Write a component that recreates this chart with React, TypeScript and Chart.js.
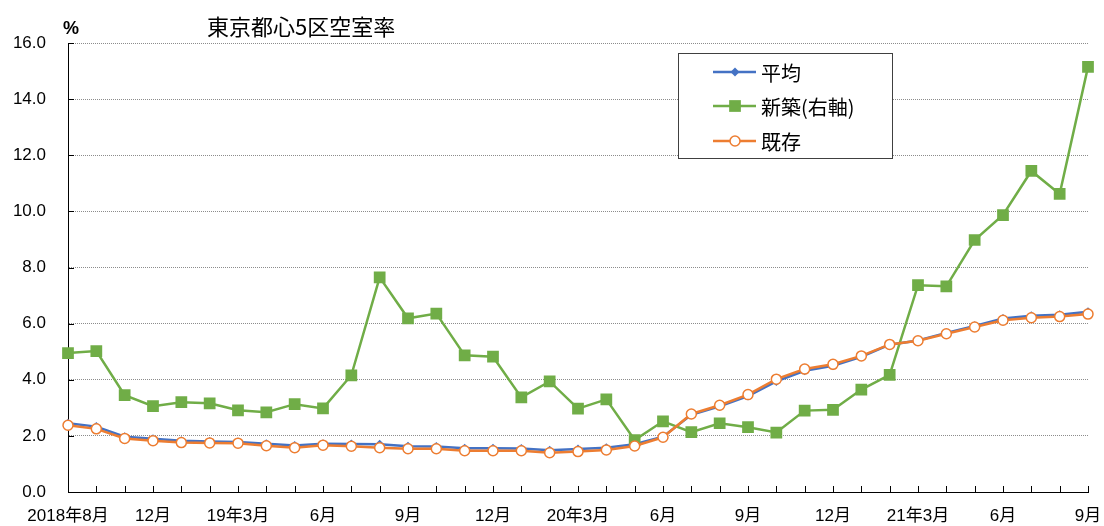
import React, { useEffect, useRef } from "react";
import { Chart, registerables } from "chart.js";

Chart.register(...registerables);

const categories = [
  "2018年9月", "2018年10月", "2018年11月", "2018年12月",
  "2019年1月", "2019年2月", "2019年3月", "2019年4月", "2019年5月", "2019年6月",
  "2019年7月", "2019年8月", "2019年9月", "2019年10月", "2019年11月", "2019年12月",
  "2020年1月", "2020年2月", "2020年3月", "2020年4月", "2020年5月", "2020年6月",
  "2020年7月", "2020年8月", "2020年9月", "2020年10月", "2020年11月", "2020年12月",
  "2021年1月", "2021年2月", "2021年3月", "2021年4月", "2021年5月", "2021年6月",
  "2021年7月", "2021年8月", "2021年9月",
];

const tickLabels = [
  "2018年8月", "12月", "19年3月", "6月", "9月", "12月", "20年3月",
  "6月", "9月", "12月", "21年3月", "6月", "9月",
];

const yTicks = [0, 2, 4, 6, 8, 10, 12, 14, 16];

const averageSeries = [
  2.45, 2.33, 1.97, 1.9, 1.83, 1.8, 1.78, 1.72, 1.66, 1.72, 1.71, 1.7, 1.63,
  1.62, 1.56, 1.56, 1.55, 1.49, 1.53, 1.58, 1.7, 1.97, 2.75, 3.05, 3.42, 3.94,
  4.32, 4.5, 4.82, 5.25, 5.4, 5.67, 5.92, 6.18, 6.28, 6.32, 6.42,
];

const newBuildSeries = [
  4.95, 5.02, 3.45, 3.06, 3.2, 3.16, 2.91, 2.84, 3.13, 2.98, 4.16, 7.65, 6.19,
  6.36, 4.87, 4.82, 3.37, 3.94, 2.97, 3.3, 1.85, 2.52, 2.13, 2.45, 2.31, 2.12,
  2.9, 2.93, 3.65, 4.17, 7.37, 7.33, 8.98, 9.87, 11.44, 10.62, 15.15,
];

const existingSeries = [
  2.38, 2.25, 1.91, 1.83, 1.76, 1.75, 1.74, 1.65, 1.58, 1.67, 1.63, 1.58, 1.54,
  1.54, 1.47, 1.47, 1.47, 1.4, 1.44, 1.5, 1.64, 1.95, 2.78, 3.09, 3.47, 4.02,
  4.38, 4.55, 4.85, 5.26, 5.39, 5.64, 5.88, 6.12, 6.21, 6.25, 6.34,
];

const seriesNames = ["平均", "新築(右軸)", "既存"];
const titleText = "東京都心5区空室率";
const unitText = "%";

const FONT = "'Liberation Sans', 'Noto Sans CJK JP', sans-serif";
const CJK = "'Noto Sans CJK JP', 'Liberation Sans', sans-serif";

function drawMarker(ctx: CanvasRenderingContext2D, style: string, x: number, y: number, r: number, fill: string, stroke: string, bw: number) {
  ctx.save();
  ctx.beginPath();
  if (style === "rect") {
    const s = r * Math.SQRT1_2;
    ctx.rect(x - s, y - s, 2 * s, 2 * s);
  } else if (style === "rectRot") {
    ctx.moveTo(x, y - r);
    ctx.lineTo(x + r, y);
    ctx.lineTo(x, y + r);
    ctx.lineTo(x - r, y);
    ctx.closePath();
  } else {
    ctx.arc(x, y, r, 0, Math.PI * 2);
  }
  ctx.fillStyle = fill;
  ctx.fill();
  if (bw > 0) {
    ctx.lineWidth = bw;
    ctx.strokeStyle = stroke;
    ctx.stroke();
  }
  ctx.restore();
}

const decorPlugin = {
  id: "decor",
  afterDraw(chart: any) {
    const ctx = chart.ctx as CanvasRenderingContext2D;
    const area = chart.chartArea;
    const xs = chart.scales.x;
    const ys = chart.scales.y;
    ctx.save();
    // inner tick marks
    ctx.strokeStyle = "#000";
    ctx.lineWidth = 1;
    ctx.beginPath();
    for (let i = 0; i < xs.ticks.length; i++) {
      const px = Math.round(xs.getPixelForTick(i)) + 0.5;
      ctx.moveTo(px, area.bottom);
      ctx.lineTo(px, area.bottom - 6);
    }
    for (let i = 0; i < ys.ticks.length; i++) {
      const py = Math.round(ys.getPixelForTick(i)) + 0.5;
      ctx.moveTo(area.left, py);
      ctx.lineTo(area.left + 6, py);
    }
    ctx.stroke();

    // title and unit
    ctx.fillStyle = "#000";
    ctx.textBaseline = "middle";
    ctx.textAlign = "left";
    ctx.font = `22px ${CJK}`;
    ctx.fillText(titleText, area.left + 139, area.top - 16);
    ctx.font = `bold 18px ${FONT}`;
    ctx.fillText(unitText, area.left - 5, area.top - 14);

    // legend box
    const bx = 678.5, by = 53.5, bw = 214, bh = 105;
    ctx.fillStyle = "#fff";
    ctx.fillRect(bx, by, bw, bh);
    ctx.strokeStyle = "#404040";
    ctx.lineWidth = 1;
    ctx.strokeRect(bx, by, bw, bh);
    const order = [0, 1, 2];
    const rows = [72, 106, 141];
    order.forEach((di, k) => {
      const ds = chart.data.datasets[di];
      const y = rows[k];
      ctx.beginPath();
      ctx.strokeStyle = ds.borderColor;
      ctx.lineWidth = ds.borderWidth;
      ctx.moveTo(713, y);
      ctx.lineTo(756, y);
      ctx.stroke();
      drawMarker(ctx, ds.pointStyle, 735, y, ds.pointRadius, ds.pointBackgroundColor, ds.pointBorderColor, ds.pointBorderWidth);
      ctx.fillStyle = "#000";
      ctx.font = `20px ${CJK}`;
      ctx.textBaseline = "middle";
      ctx.fillText(ds.label, 761, y + 1);
    });
    ctx.restore();
  },
};

export default function App() {
  const ref = useRef<HTMLCanvasElement>(null);

  useEffect(() => {
    if (!ref.current) return;
    const chart = new Chart(ref.current, {
      type: "line",
      data: {
        labels: categories,
        datasets: [
          {
            label: seriesNames[0],
            data: averageSeries,
            borderColor: "#4472C4",
            backgroundColor: "#4472C4",
            borderWidth: 2.5,
            pointStyle: "rectRot",
            pointRadius: 4.5,
            pointBackgroundColor: "#4472C4",
            pointBorderColor: "#4472C4",
            pointBorderWidth: 0,
            tension: 0,
            order: 2,
          },
          {
            label: seriesNames[1],
            data: newBuildSeries,
            borderColor: "#70AD47",
            backgroundColor: "#70AD47",
            borderWidth: 2.5,
            pointStyle: "rect",
            pointRadius: 8.3,
            pointBackgroundColor: "#70AD47",
            pointBorderColor: "#70AD47",
            pointBorderWidth: 0,
            tension: 0,
            order: 1,
          },
          {
            label: seriesNames[2],
            data: existingSeries,
            borderColor: "#ED7D31",
            backgroundColor: "#ED7D31",
            borderWidth: 2.5,
            pointStyle: "circle",
            pointRadius: 5,
            pointBackgroundColor: "#FFFFFF",
            pointBorderColor: "#ED7D31",
            pointBorderWidth: 1.5,
            tension: 0,
            order: 0,
          },
        ],
      } as any,
      options: {
        animation: false,
        responsive: false,
        devicePixelRatio: 1,
        layout: { padding: { top: 43, right: 16, bottom: 0, left: 0 } },
        plugins: {
          legend: { display: false },
          tooltip: { enabled: false },
          title: { display: false },
        },
        scales: {
          x: {
            type: "category",
            offset: false,
            afterFit: (s: any) => {
              s.height = 34;
              s.paddingLeft = 0;
              s.paddingRight = 0;
            },
            grid: { display: true, drawOnChartArea: false, drawTicks: false },
            border: { display: true, color: "#000", width: 1 },
            ticks: {
              autoSkip: false,
              maxRotation: 0,
              padding: 14,
              color: "#000",
              font: { family: FONT, size: 17 },
              callback: (_v: any, i: number) => (i % 3 === 0 ? tickLabels[i / 3] : ""),
            },
          },
          y: {
            min: 0,
            max: 16,
            afterFit: (s: any) => {
              s.width = 68;
            },
            afterBuildTicks: (s: any) => {
              s.ticks = yTicks.map((v) => ({ value: v }));
            },
            grid: { color: "#8c8c8c", lineWidth: 1, drawTicks: false },
            border: { display: true, color: "#000", width: 1, dash: [1, 1] },
            ticks: {
              padding: 22,
              color: "#000",
              font: { family: FONT, size: 17 },
              callback: (v: any) => Number(v).toFixed(1),
            },
          },
        },
      } as any,
      plugins: [decorPlugin],
    });
    return () => chart.destroy();
  }, []);

  return (
    <div style={{ position: "absolute", left: 0, top: 0, width: 1104, height: 526, background: "#fff" }}>
      <canvas ref={ref} width={1104} height={526} style={{ display: "block" }} />
    </div>
  );
}
